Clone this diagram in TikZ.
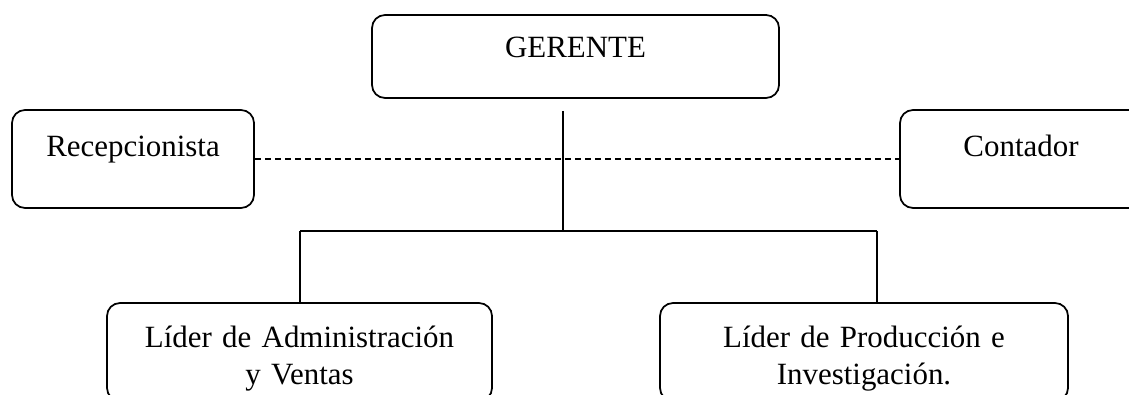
\documentclass[tikz,border=0pt]{standalone}
\usepackage{fontspec}
\setmainfont{Liberation Serif}

\begin{document}
\begin{tikzpicture}[font=\fontsize{17.6pt}{21.6pt}\selectfont,x=1cm,y=1cm,
    caja/.style={draw,line width=1pt,rounded corners=0.26cm,inner sep=0.1cm},
    linea/.style={line width=0.8pt},
    punteada/.style={line width=0.8pt,dash pattern=on 0.12cm off 0.08cm}]
    % Marco del dibujo: las cajas de la derecha y de abajo quedan cortadas.
    \path[use as bounding box,clip] (0,0) rectangle (22.58,7.88);

    % Cajas del organigrama
    \node[caja,minimum width=8.14cm,minimum height=1.66cm,
        text height=0.42cm,text depth=0.36cm] (gerente) at (11.51,6.75)
        {GERENTE};
    \node[caja,minimum width=4.84cm,minimum height=1.96cm,
        text height=0.42cm,text depth=0.50cm] (recepcionista) at (2.66,4.70)
        {Recepcionista};
    \node[caja,minimum width=4.84cm,minimum height=1.96cm,
        text height=0.42cm,text depth=0.50cm] (contador) at (20.42,4.70)
        {Contador};
    \node[caja,minimum width=7.70cm,minimum height=1.96cm,text width=7.2cm,
        align=center,text height=0.42cm,text depth=0.62cm] (administracion)
        at (5.99,0.84) {Líder de Administración\\y Ventas};
    \node[caja,minimum width=8.16cm,minimum height=1.96cm,text width=7.6cm,
        align=center,text height=0.42cm,text depth=0.62cm] (produccion)
        at (17.28,0.84) {Líder de Producción e\\Investigación.};

    % Líneas de mando: tronco central y ramas hacia los líderes
    \coordinate (tronco) at (11.26,5.66);
    \coordinate (bifurcacion) at (11.26,3.26);
    \coordinate (ramaizq) at (6.00,3.26);
    \coordinate (ramader) at (17.54,3.26);
    \draw[linea] (tronco) -- (bifurcacion);
    \draw[linea] (ramaizq) -- (ramader);
    \draw[linea] (ramaizq) -- (ramaizq |- administracion.north);
    \draw[linea] (ramader) -- (ramader |- produccion.north);

    % Staff: relación punteada entre recepcionista y contador
    \draw[punteada] (recepcionista) -- (contador);
\end{tikzpicture}
\end{document}
